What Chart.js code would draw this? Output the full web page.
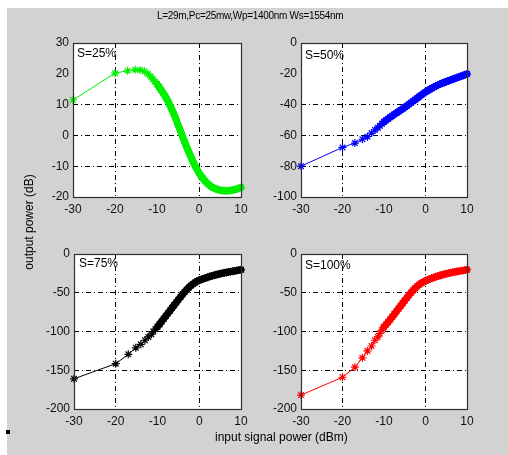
<!DOCTYPE html>
<html>
<head>
<meta charset="utf-8">
<script src="https://cdn.jsdelivr.net/npm/chart.js@4.4.1/dist/chart.umd.min.js"></script>
<style>
  html, body { margin: 0; padding: 0; background: #ffffff; }
  #fig { position: absolute; left: 7px; top: 8px; width: 501px; height: 447px; background: #d2d2d2; }
  canvas.panel { position: absolute; left: 0; top: 0; }
  .txt { position: absolute; font-family: "Liberation Sans", Arial, sans-serif; color: #000; white-space: nowrap; }
</style>
</head>
<body>
<div id="fig"></div>
<canvas class="panel" id="c1" width="508" height="455"></canvas>
<canvas class="panel" id="c2" width="508" height="455"></canvas>
<canvas class="panel" id="c3" width="508" height="455"></canvas>
<canvas class="panel" id="c4" width="508" height="455"></canvas>
<div class="txt" style="left:157px; top:10px; font-size:10px; line-height:11px; letter-spacing:-0.3px;">L=29m,Pc=25mw,Wp=1400nm Ws=1554nm</div>
<div class="txt" style="top:222px; font-size:12px; line-height:12px; transform: translate(-50%,-50%) rotate(-90deg); transform-origin: center; left:29px;">output power (dB)</div>
<div class="txt" style="left:215px; top:431px; font-size:12px; line-height:12px;">input signal power (dBm)</div>
<div class="txt" style="left:77px; top:47px; font-size:12px; line-height:12px;">S=25%</div>
<div class="txt" style="left:305px; top:49px; font-size:12px; line-height:12px;">S=50%</div>
<div class="txt" style="left:79px; top:257px; font-size:12px; line-height:12px;">S=75%</div>
<div class="txt" style="left:305px; top:259px; font-size:12px; line-height:12px;">S=100%</div>
<div style="position:absolute; left:6px; top:430px; width:4px; height:4px; background:#000;"></div>
<script>
// input signal power (dBm)
const inputPower = [-30, -20, -17, -15.2, -14, -13, -12.2, -11.5, -11, -10.5,
  -10, -9.5, -9, -8.5, -8, -7.5, -7, -6.5, -6, -5.5, -5, -4.5, -4, -3.5, -3, -2.5, -2, -1.5, -1, -0.5,
  0, 0.5, 1, 1.5, 2, 2.5, 3, 3.5, 4, 4.5, 5, 5.5, 6, 6.5, 7, 7.5, 8, 8.5, 9, 9.5, 10];

// output power (dB) for each S value
const outS25 = [11.5, 20.2, 21.0, 21.3, 21.2, 20.8, 20.0, 19.1, 18.3, 17.5,
  16.7, 15.7, 14.7, 13.7, 12.6, 11.4, 10.0, 8.5, 7.0, 5.3, 3.5, 1.8, 0, -1.8, -3.5, -5.2, -6.8, -8.3, -9.7, -11.0,
  -12.2, -13.2, -14.0, -14.9, -15.6, -16.2, -16.7, -17.1, -17.4, -17.6, -17.8, -17.9, -18.0, -18.0, -18.0, -17.9, -17.7, -17.6, -17.4, -17.2, -16.9];

const outS50 = [-80, -67.8, -65, -62.5, -60.8, -58.5, -56.5, -55, -53.8, -52.5,
  -51.2, -50.2, -49.2, -48.2, -47.3, -46.3, -45.4, -44.5, -43.6, -42.7, -41.8, -40.8, -39.8, -38.8, -37.8, -36.8, -35.8, -34.8, -33.8, -32.8,
  -31.8, -31.0, -30.2, -29.4, -28.7, -28.0, -27.3, -26.7, -26.1, -25.6, -25.1, -24.6, -24.1, -23.6, -23.1, -22.6, -22.1, -21.6, -21.1, -20.6, -20.1];

const outS75 = [-161, -141.5, -129.5, -121, -116.5, -111.3, -107, -103.5, -100, -97,
  -94, -90.5, -87, -83.5, -80, -76.5, -73, -69.5, -66, -62.5, -59, -55.5, -52, -49, -46, -43.3, -40.8, -38.6, -36.8, -35.2,
  -34, -32.9, -31.9, -30.9, -30, -29.1, -28.3, -27.5, -26.8, -26.1, -25.5, -24.9, -24.3, -23.8, -23.3, -22.8, -22.3, -21.8, -21.3, -20.8, -20.3];

const outS100 = [-182, -159, -146, -134, -125, -118.7, -111.3, -107, -102.6, -98.3,
  -94, -91, -87.8, -84.5, -81, -77.5, -74, -70.5, -67, -63.5, -60, -56.5, -53, -50, -47, -44.2, -41.7, -39.5, -37.6, -36,
  -34.6, -33.4, -32.3, -31.3, -30.3, -29.4, -28.5, -27.7, -26.9, -26.2, -25.5, -24.9, -24.3, -23.7, -23.2, -22.7, -22.2, -21.7, -21.2, -20.8, -20.3];

// tick / axis settings
const xTicks = [-30, -20, -10, 0, 10];
const yTicksS25 = [30, 20, 10, 0, -10, -20];
const yTicksS50 = [0, -20, -40, -60, -80, -100];
const yTicksS75 = [0, -50, -100, -150, -200];
const yTicksS100 = [0, -50, -100, -150, -200];
const xGridAt = [-20, 0];
const yGridS25 = [10, 0, -10];
const yGridS50 = [-40, -60, -80];
const yGridS75 = [-50, -100, -150];
const yGridS100 = [-50, -100, -150];

const W = 508, H = 455, YW = 40, XH = 20;

const boxPlugin = {
  id: 'box',
  beforeDraw(chart) {
    const { ctx, chartArea: a } = chart;
    ctx.save();
    ctx.fillStyle = '#ffffff';
    ctx.fillRect(a.left, a.top, a.right - a.left, a.bottom - a.top);
    ctx.restore();
  },
  afterDraw(chart) {
    const { ctx, chartArea: a } = chart;
    ctx.save();
    ctx.strokeStyle = '#303030';
    ctx.lineWidth = 1.2;
    ctx.strokeRect(Math.round(a.left) + 0.5, Math.round(a.top) + 0.5,
      Math.round(a.right - a.left), Math.round(a.bottom - a.top));
    ctx.restore();
  }
};

function makePanel(id, ys, color, yTicks, yGrid, area) {
  const pts = inputPower.map((x, i) => ({ x: x, y: ys[i] }));
  const yMin = Math.min(...yTicks), yMax = Math.max(...yTicks);
  const font = { family: '"Liberation Sans", Arial, sans-serif', size: 12 };
  new Chart(document.getElementById(id), {
    type: 'line',
    data: {
      datasets: [{
        data: pts,
        borderColor: color,
        borderWidth: 1,
        pointStyle: 'star',
        pointRadius: 4,
        pointBorderWidth: 1.2,
        pointBorderColor: color,
        pointBackgroundColor: color,
        tension: 0,
        fill: false,
        clip: 8,
        borderJoinStyle: 'round',
        borderCapStyle: 'round',
        segment: {
          borderWidth: c => (c.p0.parsed.x >= -10.01 ? 7 : 1)
        }
      }]
    },
    options: {
      responsive: false,
      animation: false,
      events: [],
      layout: {
        padding: { left: area.l - YW, top: area.t, right: W - area.r, bottom: H - area.b - XH }
      },
      plugins: { legend: { display: false }, tooltip: { enabled: false }, title: { display: false } },
      scales: {
        x: {
          type: 'linear',
          min: -30, max: 10,
          afterBuildTicks: s => { s.ticks = xTicks.map(v => ({ value: v })); },
          afterFit: s => { s.height = XH; },
          ticks: { color: '#111', font: font, padding: 5, maxRotation: 0 },
          grid: {
            drawTicks: false,
            color: c => (c.tick && xGridAt.includes(c.tick.value) ? '#000' : 'rgba(0,0,0,0)'),
            lineWidth: 1
          },
          border: { display: false, dash: [5, 3, 1, 3] }
        },
        y: {
          type: 'linear',
          min: yMin, max: yMax,
          afterBuildTicks: s => { s.ticks = yTicks.slice().reverse().map(v => ({ value: v })); },
          afterFit: s => { s.width = YW; },
          ticks: { color: '#111', font: font, padding: 4 },
          grid: {
            drawTicks: false,
            color: c => (c.tick && yGrid.includes(c.tick.value) ? '#000' : 'rgba(0,0,0,0)'),
            lineWidth: 1
          },
          border: { display: false, dash: [5, 3, 1, 3] }
        }
      }
    },
    plugins: [boxPlugin]
  });
}

makePanel('c1', outS25, '#00f000', yTicksS25, yGridS25, { l: 73, r: 241, t: 43, b: 197 });
makePanel('c2', outS50, '#0000ff', yTicksS50, yGridS50, { l: 301, r: 467, t: 43, b: 197 });
makePanel('c3', outS75, '#000000', yTicksS75, yGridS75, { l: 74, r: 241, t: 254, b: 409 });
makePanel('c4', outS100, '#ff0000', yTicksS100, yGridS100, { l: 301, r: 467, t: 254, b: 409 });
</script>
</body>
</html>
